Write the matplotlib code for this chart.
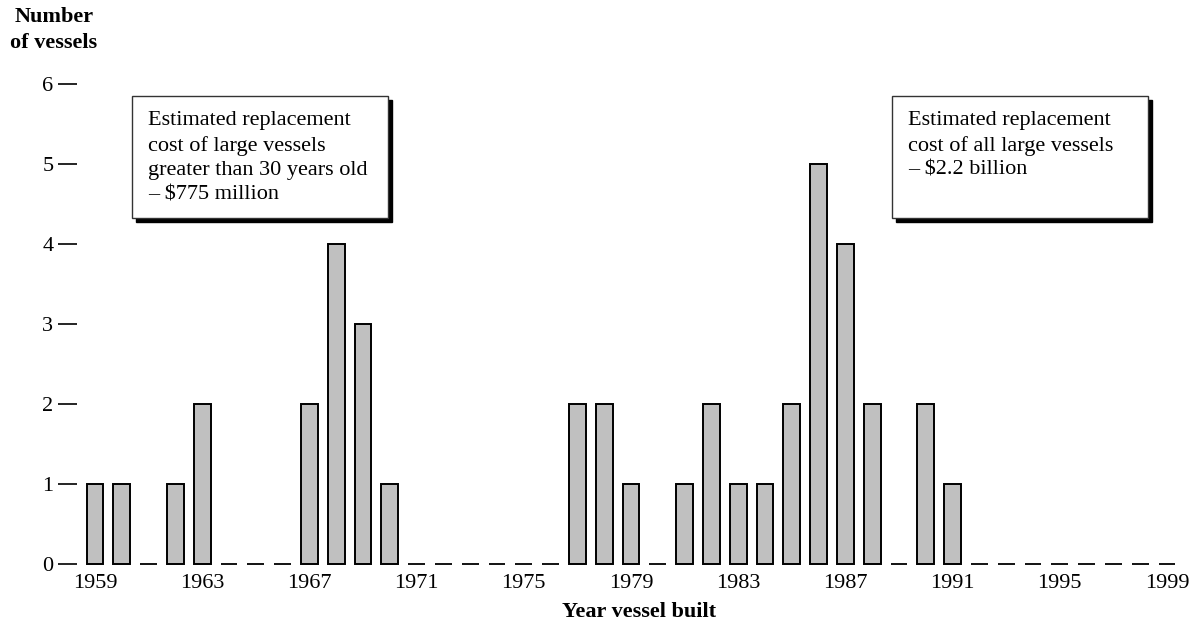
import matplotlib.pyplot as plt
from matplotlib.patches import Rectangle
import numpy as np

years = np.arange(1959, 2000)
vessels = [1, 1, 0, 1, 2, 0, 0, 0, 2, 4, 3, 1,
           0, 0, 0, 0, 0, 0, 2, 2, 1, 0, 1, 2, 1, 1, 2, 5, 4, 2, 0, 2, 1,
           0, 0, 0, 0, 0, 0, 0, 0]
year_ticks = [1959, 1963, 1967, 1971, 1975, 1979, 1983, 1987, 1991, 1995, 1999]
y_ticks = [0, 1, 2, 3, 4, 5, 6]
box_texts = ["Estimated replacement\ncost of large vessels\ngreater than 30 years old\n\u2013 $775 million",
             "Estimated replacement\ncost of all large vessels\n\u2013 $2.2 billion"]

plt.rcParams['font.family'] = ['Liberation Serif', 'DejaVu Serif']
W, H = 1194, 628
fig = plt.figure(figsize=(W / 100, H / 100), dpi=100)

# axes placed in pixels
left, right, bottom = 77, 1186, H - 564
ax = fig.add_axes([left / W, bottom / H, (right - left) / W, 504 / H])
px_per_year = 26.8
x0 = 1959 - (95 - left) / px_per_year
ax.set_xlim(x0, x0 + (right - left) / px_per_year)
ax.set_ylim(0, 6.3)

vessels = np.array(vessels)
width = 0.62
nz = vessels > 0
ax.bar(years[nz], vessels[nz], width=width, color='#c0c0c0',
       edgecolor='black', linewidth=1.4, clip_on=False, zorder=3)
ax.hlines(np.zeros((~nz).sum()), years[~nz] - width / 2, years[~nz] + width / 2,
          color='black', linewidth=1.3, clip_on=False)

for s in ax.spines.values():
    s.set_visible(False)
ax.set_xticks(year_ticks)
ax.set_xticklabels([str(y) for y in year_ticks], fontsize=16)
ax.tick_params(axis='x', length=0, pad=7)
ax.set_yticks(y_ticks)
ax.set_yticklabels([str(v) for v in y_ticks], fontsize=16)
ax.tick_params(axis='y', length=14, width=1.2, pad=3, direction='out')

fig.text(54 / W, 1 - 30 / H, "Number\nof vessels", ha='center', va='center',
         fontsize=16, fontweight='bold', linespacing=1.4)
fig.text(639 / W, 1 - 612 / H, "Year vessel built", ha='center', va='center',
         fontsize=16, fontweight='bold')

# annotation boxes with drop shadow
for bx, txt in zip([132, 892], box_texts):
    x, y, w, h = bx / W, (H - 218) / H, 256 / W, 122 / H
    fig.add_artist(Rectangle((x + 4 / W, y - 4 / H), w, h, transform=fig.transFigure,
                             facecolor='black', edgecolor='black', zorder=5))
    fig.add_artist(Rectangle((x, y), w, h, transform=fig.transFigure,
                             facecolor='white', edgecolor='#333333', linewidth=1, zorder=6))
    fig.text((bx + 16) / W, 1 - 111 / H, txt, ha='left', va='top', fontsize=16,
             linespacing=1.38, zorder=7)

fig.savefig('out.png', dpi=100)
